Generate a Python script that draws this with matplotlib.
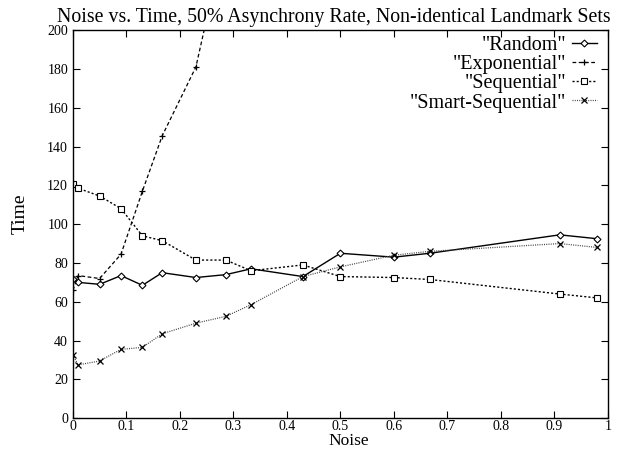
import matplotlib.pyplot as plt

plt.rcParams['font.family'] = ['Liberation Serif', 'DejaVu Serif']

noise = [0, 0.01, 0.05, 0.09, 0.13, 0.167, 0.23, 0.286, 0.333, 0.43, 0.5, 0.6, 0.667, 0.91, 0.98]

random_t = [72, 70, 69, 73.5, 68.5, 75, 72.5, 74, 77, 73, 85, 83, 85, 94.5, 92.5]
expo_x = [0, 0.01, 0.05, 0.09, 0.13, 0.167, 0.23, 0.286]
expo_t = [66, 73.5, 72, 84.5, 117, 145.5, 181, 250]
seq_t = [120.5, 118.5, 114.5, 108, 94, 91.5, 81.5, 81.5, 76, 79, 73, 72.5, 71.5, 64, 62]
smart_t = [32.5, 27.5, 29.5, 35.5, 36.5, 43.5, 49, 52.5, 58.5, 73, 78, 84, 86, 90, 88]

fig = plt.figure(figsize=(6.28, 4.49), dpi=100)
ax = fig.add_axes([0.116, 0.0685, 0.852, 0.8645])

ax.plot(noise, random_t, '-', color='black', lw=1, marker='D', ms=3.5,
        mfc='white', mec='black', mew=0.8, label='"Random"')
ax.plot(expo_x, expo_t, '--', color='black', lw=0.9, dashes=(3, 2), marker='+',
        ms=5, mew=0.9, label='"Exponential"')
ax.plot(noise, seq_t, ':', color='black', lw=1, dashes=(1.5, 1.5), marker='s', ms=5,
        mfc='white', mec='black', mew=0.8, label='"Sequential"')
ax.plot(noise, smart_t, ':', color='#444444', lw=0.9, dashes=(0.8, 1), marker='x',
        ms=5, mec='black', mew=0.9, label='"Smart-Sequential"')

ax.set_xlim(0, 1)
ax.set_ylim(0, 200)
ax.set_xticks([0, 0.1, 0.2, 0.3, 0.4, 0.5, 0.6, 0.7, 0.8, 0.9, 1])
ax.set_xticklabels(['0', '0.1', '0.2', '0.3', '0.4', '0.5', '0.6', '0.7', '0.8', '0.9', '1'])
ax.set_yticks(range(0, 201, 20))
ax.tick_params(direction='in', top=True, right=True, labelsize=10, length=5, width=0.8)
ax.tick_params(axis='x', pad=1)
for s in ax.spines.values():
    s.set_linewidth(1)

ax.set_title('Noise vs. Time, 50% Asynchrony Rate, Non-identical Landmark Sets',
             fontsize=14.3, pad=6, x=0.487)
# x label tucked under the tick labels, as in the original
fig.text(0.555, 0.0, 'Noise', fontsize=12.5, ha='center', va='bottom')
ax.set_ylabel('Time', fontsize=14)
ax.yaxis.set_label_coords(-0.082, 0.526)

ax.legend(loc='upper right', bbox_to_anchor=(0.99, 1.0), frameon=False,
          markerfirst=False, fontsize=14.5, handlelength=1.2, handletextpad=0.3,
          labelspacing=0.0, borderaxespad=0.2, borderpad=0.1)

fig.savefig('out.png', dpi=100)
